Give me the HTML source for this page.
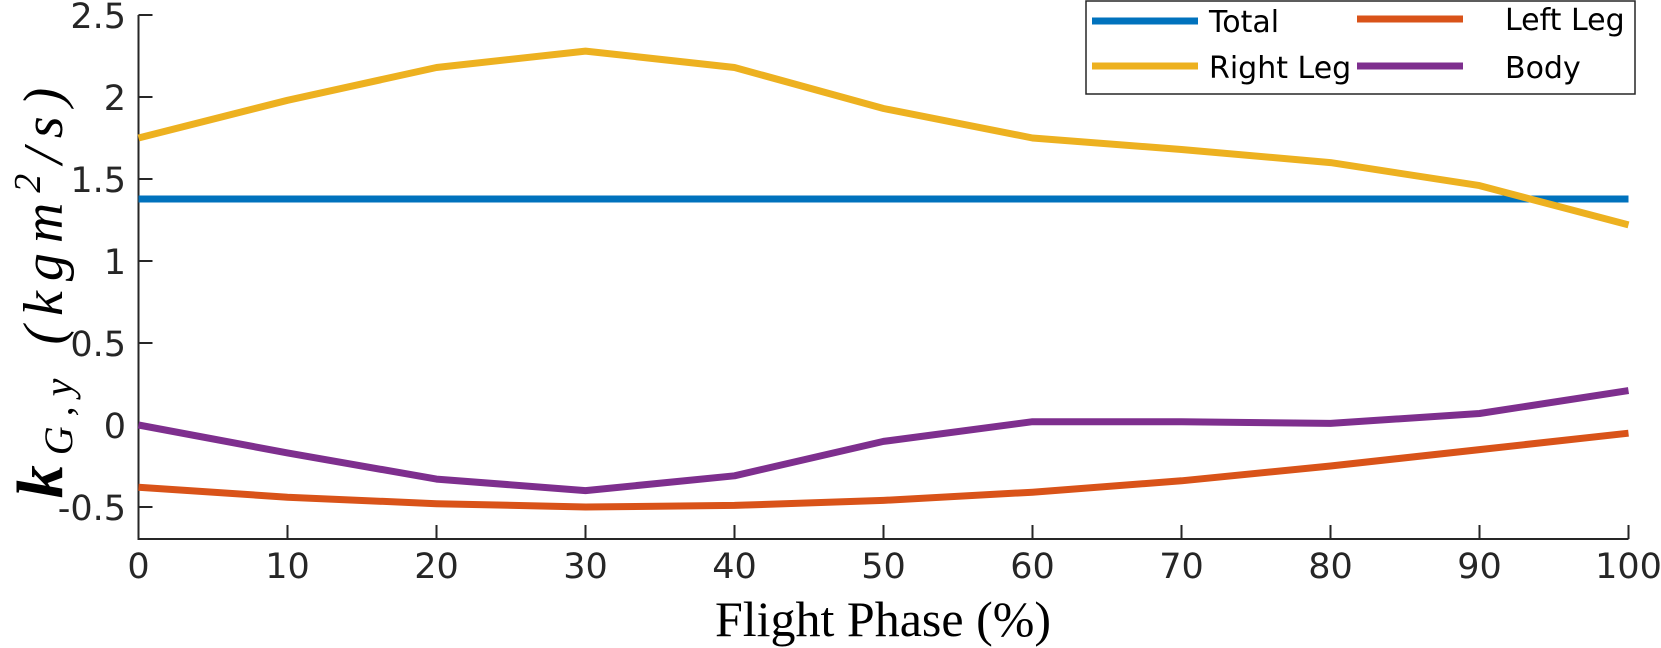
<!DOCTYPE html>
<html><head><meta charset="utf-8"><style>
html,body{margin:0;padding:0;background:#fff;}
svg{display:block;}
</style></head><body>
<svg width="1661" height="648" viewBox="0 0 1661 648" xmlns="http://www.w3.org/2000/svg">
<g stroke="#262626" stroke-width="2" fill="none">
<path d="M138.5,15 V539 H1628.5"/>
<path d="M138.5,15 h14 M138.5,97 h14 M138.5,179 h14 M138.5,261 h14 M138.5,343 h14 M138.5,425 h14 M138.5,507 h14"/>
<path d="M287.5,539 v-14 M436.5,539 v-14 M585.5,539 v-14 M734.5,539 v-14 M883.5,539 v-14 M1032.5,539 v-14 M1181.5,539 v-14 M1330.5,539 v-14 M1479.5,539 v-14 M1628.5,539 v-14"/>
</g>
<g font-family="DejaVu Sans, Liberation Sans, sans-serif" font-size="35" fill="#262626" text-anchor="end">
<text x="126" y="28">2.5</text><text x="126" y="110">2</text><text x="126" y="192">1.5</text><text x="126" y="274">1</text><text x="126" y="356">0.5</text><text x="126" y="438">0</text><text x="126" y="520">-0.5</text>
</g>
<g font-family="DejaVu Sans, Liberation Sans, sans-serif" font-size="35" fill="#262626" text-anchor="middle">
<text x="138.5" y="578">0</text><text x="287.5" y="578">10</text><text x="436.5" y="578">20</text><text x="585.5" y="578">30</text><text x="734.5" y="578">40</text><text x="883.5" y="578">50</text><text x="1032.5" y="578">60</text><text x="1181.5" y="578">70</text><text x="1330.5" y="578">80</text><text x="1479.5" y="578">90</text><text x="1628.5" y="578">100</text>
</g>
<text x="883" y="636" font-family="Liberation Serif, serif" font-size="50" text-anchor="middle" fill="#000">Flight Phase (%)</text>
<text transform="translate(62,288) rotate(-90)" font-family="Liberation Serif, serif" font-size="56" font-style="italic" text-anchor="middle" fill="#000" letter-spacing="10"><tspan font-weight="bold" font-size="66">k</tspan><tspan font-size="40" dy="10">G,y</tspan><tspan dy="-10">  (kgm</tspan><tspan font-size="38" dy="-22">2</tspan><tspan dy="22">/s)</tspan></text>
<g fill="none" stroke-width="7" stroke-linejoin="round">
<path stroke="#0072BD" d="M138.5,199 H1628.5"/>
<path stroke="#D95319" d="M138.5,487.3 L287.5,497.2 L436.5,503.7 L585.5,507 L734.5,505.4 L883.5,500.4 L1032.5,492.2 L1181.5,480.8 L1330.5,466 L1479.5,449.6 L1628.5,433.2"/>
<path stroke="#EDB120" d="M138.5,138 L287.5,100.3 L436.5,67.5 L585.5,51.1 L734.5,67.5 L883.5,108.5 L1032.5,138 L1181.5,149.5 L1330.5,162.6 L1479.5,185.6 L1628.5,224.9"/>
<path stroke="#7E2F8E" d="M138.5,425 L287.5,452.9 L436.5,479.1 L585.5,490.6 L734.5,475.8 L883.5,441.4 L1032.5,421.7 L1181.5,421.7 L1330.5,423.4 L1479.5,413.5 L1628.5,390.6"/>
</g>
<rect x="1086" y="1" width="549" height="93" fill="#fff" stroke="#262626" stroke-width="1.5"/>
<g stroke-width="7">
<path stroke="#0072BD" d="M1092,21 H1198"/>
<path stroke="#EDB120" d="M1092,66 H1198"/>
<path stroke="#D95319" d="M1357,19 H1463"/>
<path stroke="#7E2F8E" d="M1357,66 H1463"/>
</g>
<g font-family="DejaVu Sans, Liberation Sans, sans-serif" font-size="30" fill="#000">
<text x="1209" y="32">Total</text><text x="1209" y="78">Right Leg</text>
<text x="1505" y="30">Left Leg</text><text x="1505" y="78">Body</text>
</g>
</svg>
</body></html>
